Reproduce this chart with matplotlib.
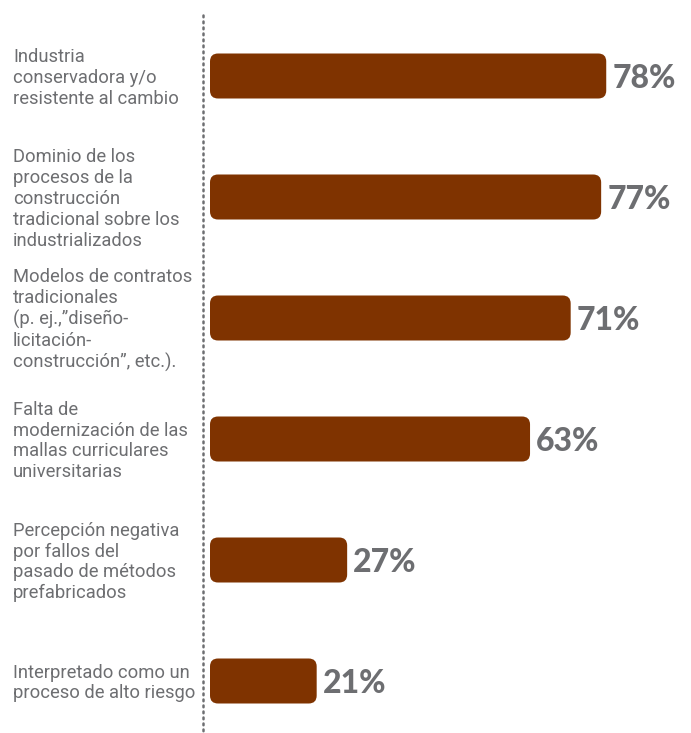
import matplotlib.pyplot as plt
from matplotlib.patches import FancyBboxPatch
from matplotlib.lines import Line2D

# categorias y porcentajes
etiquetas = [
    'Industria\nconservadora y/o\nresistente al cambio',
    'Dominio de los\nprocesos de la\nconstrucción\ntradicional sobre los\nindustrializados',
    'Modelos de contratos\ntradicionales\n(p. ej.,\u201ddiseño-\nlicitación-\nconstrucción\u201d, etc.).',
    'Falta de\nmodernización de las\nmallas curriculares\nuniversitarias',
    'Percepción negativa\npor fallos del\npasado de métodos\nprefabricados',
    'Interpretado como un\nproceso de alto riesgo',
]
valores = [78, 77, 71, 63, 27, 21]

color_barra = '#7f3300'
gris = '#6d6e71'

W, H = 691, 733
fig = plt.figure(figsize=(W / 100, H / 100), dpi=100)
x0 = 210
ax = fig.add_axes([x0 / W, 0, 1 - x0 / W, 1])
px_por_pct = 5.08
xmax = (W - x0) / px_por_pct
paso = 121.0
ax.set_xlim(0, xmax)
ax.set_ylim(5 + (H - 681) / paso, -76 / paso)
ax.axis('off')

pos = list(range(len(valores)))
barras = ax.barh(pos, valores, height=45 / paso, color=color_barra)

# esquinas redondeadas: aspecto de datos por pixel
ux = xmax / (W - x0)
uy = (H / paso) / H
for b in barras:
    x, y = b.get_x(), b.get_y()
    w, h = b.get_width(), b.get_height()
    b.set_visible(False)
    r = 8 * ux
    p = FancyBboxPatch((x, y), w, h, boxstyle=f'round,pad=0,rounding_size={r}',
                       mutation_aspect=uy / ux, fc=color_barra, ec='none')
    ax.add_patch(p)

for i, v in enumerate(valores):
    ax.text(v + 6 * ux, i + 0.02, f'{v}%', va='center', ha='left', fontsize=23,
            fontweight='black', family='Lato', color=gris)

for i, t in enumerate(etiquetas):
    fig.text(13 / W, 1 - (78 + paso * i) / H, t, va='center', ha='left',
             fontsize=13.2, family='Roboto', color=gris,
             linespacing=1.2)

fig.add_artist(Line2D([203 / W, 203 / W], [1 - 15 / H, 0], color=gris,
                      lw=1.8, linestyle=(0, (0.7, 1.7)),
                      dash_capstyle='round', transform=fig.transFigure))

fig.savefig('out.png', dpi=100, facecolor='white')
